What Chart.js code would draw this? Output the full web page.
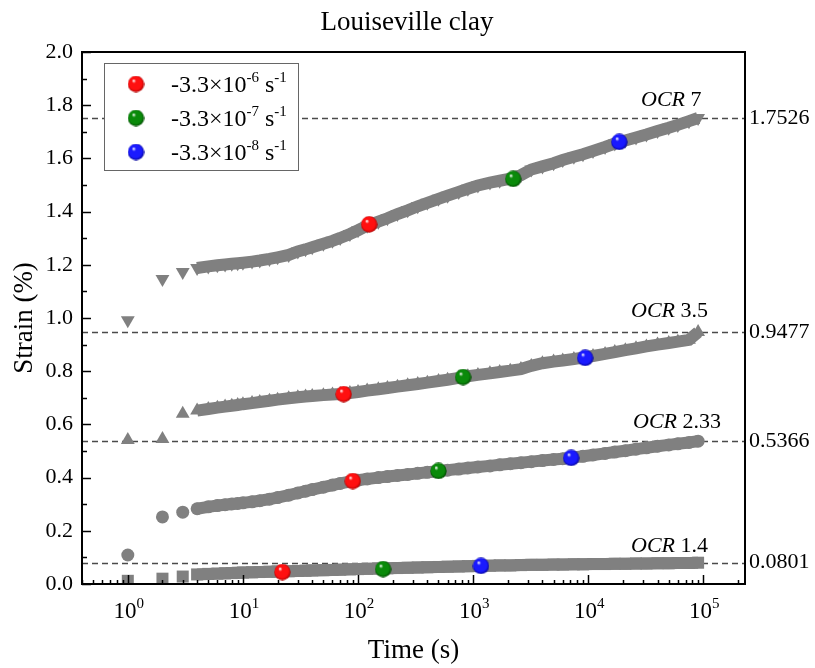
<!DOCTYPE html>
<html><head><meta charset="utf-8">
<script src="https://cdn.jsdelivr.net/npm/chart.js@4"></script>
<style>html,body{margin:0;padding:0;background:#fff}</style>
</head><body>
<canvas id="c" width="815" height="668" style="width:815px;height:668px;display:block"></canvas>
<script>
// ---------- data ----------
const TIME = [1,2,3,4,5,6,7,8,9,10,12,14,17,20,25,30,35,40,50,60,70,85,100,120,150,180,220,270,330,400,500,600,750,900,1100,1400,1700,2100,2600,3200,4000,5000,6000,7500,9000,11000,14000,17000,21000,26000,32000,40000,50000,60000,75000,90000];
const OCR7 = [0.992,1.147,1.173,1.188,1.194,1.198,1.201,1.204,1.206,1.208,1.212,1.216,1.222,1.228,1.237,1.250,1.258,1.266,1.279,1.290,1.301,1.316,1.330,1.347,1.362,1.375,1.391,1.405,1.420,1.433,1.448,1.460,1.474,1.486,1.498,1.509,1.516,1.524,1.537,1.558,1.570,1.582,1.594,1.606,1.616,1.628,1.643,1.656,1.667,1.679,1.690,1.703,1.715,1.726,1.740,1.752];
const OCR3_5 = [0.541,0.545,0.640,0.652,0.658,0.663,0.667,0.670,0.673,0.676,0.680,0.684,0.689,0.693,0.698,0.702,0.705,0.707,0.710,0.712,0.714,0.718,0.722,0.727,0.732,0.737,0.742,0.747,0.752,0.757,0.763,0.768,0.775,0.781,0.786,0.792,0.797,0.802,0.808,0.820,0.830,0.836,0.840,0.846,0.851,0.857,0.865,0.872,0.879,0.886,0.893,0.900,0.906,0.911,0.918,0.947];
const OCR2_33 = [0.109,0.252,0.270,0.283,0.290,0.295,0.298,0.301,0.303,0.305,0.309,0.313,0.319,0.325,0.334,0.342,0.349,0.355,0.364,0.372,0.378,0.385,0.390,0.395,0.400,0.404,0.408,0.412,0.416,0.420,0.424,0.428,0.432,0.436,0.440,0.444,0.448,0.452,0.456,0.460,0.464,0.468,0.471,0.476,0.480,0.485,0.491,0.496,0.501,0.507,0.512,0.518,0.523,0.527,0.532,0.537];
const OCR1_4 = [0.012,0.020,0.028,0.036,0.038,0.039,0.040,0.041,0.042,0.043,0.044,0.045,0.046,0.047,0.048,0.049,0.050,0.051,0.052,0.053,0.054,0.055,0.056,0.057,0.058,0.059,0.060,0.061,0.062,0.063,0.064,0.065,0.066,0.067,0.068,0.069,0.070,0.070,0.071,0.072,0.072,0.073,0.073,0.074,0.074,0.075,0.075,0.076,0.076,0.077,0.077,0.078,0.078,0.079,0.079,0.080];
const OCR_NUM = ['7','3.5','2.33','1.4'];
const OCR_LEVELS = [1.7526, 0.9477, 0.5366, 0.0801];
// strain-rate markers (one per OCR stage)
const RED_T = [125, 75, 90, 22];      const RED_V = [1.352, 0.714, 0.387, 0.045];
const GREEN_T = [2230, 818, 500, 165]; const GREEN_V = [1.523, 0.778, 0.425, 0.056];
const BLUE_T = [18600, 9400, 7100, 1170]; const BLUE_V = [1.662, 0.850, 0.474, 0.068];
const RATE_EXP = ['-6','-7','-8'];
const X_TICKS = [1,10,100,1000,10000,100000];
const X_EXP = ['0','1','2','3','4','5'];

// ---------- helpers ----------
const FONT = '"Liberation Serif","Times New Roman",serif';
const GREY = '#808080';
function pts(T, V){ return T.map((t,i)=>({x:t, y:V[i]})); }
function sphere(mid, dark){
  const c = document.createElement('canvas'); c.width = c.height = 17;
  const g = c.getContext('2d');
  const gr = g.createRadialGradient(6,5,0.3,8.5,8.5,8.6);
  gr.addColorStop(0,'#ffffff'); gr.addColorStop(0.22,mid); gr.addColorStop(0.75,mid); gr.addColorStop(1,dark);
  g.fillStyle = gr; g.beginPath(); g.arc(8.5,8.5,8.2,0,Math.PI*2); g.fill();
  return c;
}
const SPH = [sphere('#ff1010','#a00000'), sphere('#0a8a0a','#004000'), sphere('#1a1aff','#00008a')];

function greyDS(V, style, rot, r, bandStart){
  return {data: pts(TIME, V), showLine:true, order:2, clip: 6,
    pointStyle: style, rotation: rot, pointRadius: r, pointHoverRadius: r,
    pointBackgroundColor: GREY, pointBorderColor: GREY, pointBorderWidth: 0,
    borderColor: GREY, borderWidth: 12,
    segment: {borderColor: c => c.p0DataIndex < bandStart ? 'rgba(0,0,0,0)' : GREY}};
}
function sphDS(T, V, k){
  return {data: pts(T, V), order:0, pointStyle: SPH[k], pointRadius: 8, showLine:false};
}

function drawSup(ctx, base, sup, x, y, bf, sf, rise, align){
  ctx.font = bf; const w1 = ctx.measureText(base).width;
  ctx.font = sf; const w2 = ctx.measureText(sup).width;
  let sx = align === 'center' ? x - (w1 + w2) / 2 : x;
  ctx.textAlign = 'left';
  ctx.font = bf; ctx.fillText(base, sx, y);
  ctx.font = sf; ctx.fillText(sup, sx + w1, y - rise);
  return sx + w1 + w2;
}

const deco = {
  id: 'deco',
  beforeDatasetsDraw(chart){
    const {ctx, chartArea: a, scales: {y}} = chart;
    ctx.save(); ctx.strokeStyle = '#4a4a4a'; ctx.lineWidth = 1.3; ctx.setLineDash([6,4]);
    OCR_LEVELS.forEach(v => { const py = Math.round(y.getPixelForValue(v)) + 0.5;
      ctx.beginPath(); ctx.moveTo(a.left, py); ctx.lineTo(a.right, py); ctx.stroke(); });
    ctx.restore();
  },
  afterDraw(chart){
    const {ctx, chartArea: a, scales: {x, y}} = chart;
    ctx.save();
    // cover anything below the plot area (markers clipped at axis)
    ctx.fillStyle = '#fff'; ctx.fillRect(a.left, a.bottom + 1, a.right - a.left, 8);
    // frame
    ctx.strokeStyle = '#000'; ctx.lineWidth = 2; ctx.setLineDash([]);
    ctx.strokeRect(a.left, a.top, a.right - a.left, a.bottom - a.top);
    // y ticks (inward)
    ctx.lineWidth = 1.5;
    for (let i = 0; i <= 20; i++) {
      const py = Math.round(y.getPixelForValue(i / 10)) + 0.5;
      const len = i % 2 === 0 ? 9 : 5;
      ctx.beginPath(); ctx.moveTo(a.left, py); ctx.lineTo(a.left + len, py); ctx.stroke();
    }
    // x ticks (inward)
    for (let n = -1; n <= 5; n++) for (let k = 1; k <= 9; k++) {
      const v = k * Math.pow(10, n);
      if (v < x.min || v > x.max) continue;
      const px = Math.round(x.getPixelForValue(v)) + 0.5;
      const len = k === 1 ? 9 : 4;
      ctx.beginPath(); ctx.moveTo(px, a.bottom); ctx.lineTo(px, a.bottom - len); ctx.stroke();
    }
    // x tick labels
    ctx.fillStyle = '#000'; ctx.textBaseline = 'alphabetic';
    X_TICKS.forEach((v, i) => drawSup(ctx, '10', X_EXP[i], x.getPixelForValue(v) + 1, 618, '23px ' + FONT, '15px ' + FONT, 10, 'center'));
    // axis titles
    ctx.font = '27px ' + FONT; ctx.textAlign = 'center';
    ctx.fillText('Time (s)', (a.left + a.right) / 2, 658);
    ctx.save(); ctx.translate(32, (a.top + a.bottom) / 2); ctx.rotate(-Math.PI / 2);
    ctx.fillText('Strain (%)', 0, 0); ctx.restore();
    ctx.font = '27px ' + FONT; ctx.fillText('Louiseville clay', 407, 30);
    // OCR labels
    const offs = [104, 114, 112, 114], rise = [12, 15, 13, 11];
    OCR_LEVELS.forEach((v, i) => {
      const py = y.getPixelForValue(v) - rise[i];
      let sx = a.right - offs[i];
      ctx.textAlign = 'left';
      ctx.font = 'italic 22px ' + FONT; ctx.fillText('OCR', sx, py);
      sx += ctx.measureText('OCR ').width;
      ctx.font = '22px ' + FONT; ctx.fillText(OCR_NUM[i], sx, py);
    });
    // legend
    ctx.fillStyle = '#fff'; ctx.fillRect(104.5, 63.5, 194, 107);
    ctx.strokeStyle = '#666'; ctx.lineWidth = 1; ctx.strokeRect(104.5, 63.5, 194, 107);
    ctx.fillStyle = '#000';
    [84, 118, 152].forEach((cy, k) => {
      ctx.drawImage(SPH[k], 136 - 8.5, cy - 8.5);
      let ex = drawSup(ctx, '-3.3×10', RATE_EXP[k], 171, cy + 8, '24px ' + FONT, '15px ' + FONT, 10, 'left');
      drawSup(ctx, ' s', '-1', ex, cy + 8, '24px ' + FONT, '15px ' + FONT, 10, 'left');
    });
    ctx.restore();
  }
};

new Chart(document.getElementById('c'), {
  type: 'scatter',
  data: { datasets: [
    sphDS(RED_T, RED_V, 0), sphDS(GREEN_T, GREEN_V, 1), sphDS(BLUE_T, BLUE_V, 2),
    greyDS(OCR7, 'triangle', 180, 8, 3),
    greyDS(OCR3_5, 'triangle', 0, 8, 3),
    greyDS(OCR2_33, 'circle', 0, 6.5, 3),
    greyDS(OCR1_4, 'rect', 0, 8.5, 3)
  ]},
  options: {
    responsive: false, animation: false, devicePixelRatio: 1,
    layout: { padding: { top: 52, left: 0, right: 0, bottom: 0 } },
    plugins: { legend: { display: false }, tooltip: { enabled: false }, title: { display: false } },
    scales: {
      x: { type: 'logarithmic', min: 0.4, max: 230000,
           grid: { display: false, drawTicks: false }, border: { display: false },
           ticks: { display: false }, afterFit: s => { s.height = 84; } },
      y: { type: 'linear', position: 'left', min: 0, max: 2,
           grid: { display: false, drawTicks: false }, border: { display: false },
           ticks: { stepSize: 0.2, padding: 9, color: '#000', font: { family: FONT, size: 22 },
                    callback: v => v.toFixed(1) },
           afterFit: s => { s.width = 82; } },
      y2: { type: 'linear', position: 'right', min: 0, max: 2,
            grid: { display: false, drawTicks: false }, border: { display: false },
            afterBuildTicks: s => { s.ticks = OCR_LEVELS.map(v => ({ value: v })); },
            ticks: { autoSkip: false, padding: 4, color: '#000', font: { family: FONT, size: 22 },
                     callback: v => v.toFixed(4) },
            afterFit: s => { s.width = 70; } }
    }
  },
  plugins: [deco]
});
</script>
</body></html>
